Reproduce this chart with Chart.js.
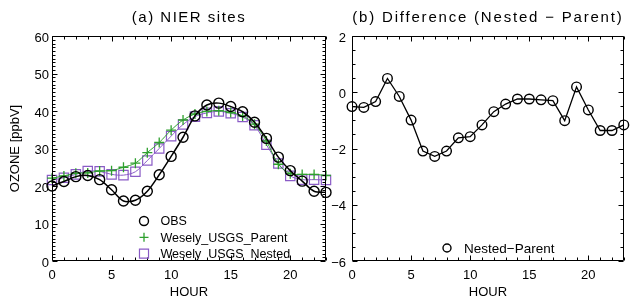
<!DOCTYPE html>
<html>
<head>
<meta charset="utf-8">
<script src="https://cdn.jsdelivr.net/npm/chart.js@4.4.1/dist/chart.umd.min.js"></script>
<style>
  html, body { margin: 0; padding: 0; background: #fff; }
  #wrap { position: relative; width: 630px; height: 299px; overflow: hidden; }
  canvas { position: absolute; top: 0; }
  #nier { left: 0; }
  #diff { left: 326px; }
</style>
</head>
<body>
<div id="wrap">
  <canvas id="nier" width="340" height="299"></canvas>
  <canvas id="diff" width="304" height="299"></canvas>
</div>
<script>
// hourly values
const hours = [0, 1, 2, 3, 4, 5, 6, 7, 8, 9, 10, 11, 12, 13, 14, 15, 16, 17, 18, 19, 20, 21, 22, 23];
const obs = [20.0, 21.2, 22.5, 22.8, 21.7, 19.0, 16.0, 16.2, 18.6, 23.0, 27.9, 33.0, 38.7, 41.6, 42.1, 41.2, 39.8, 37.0, 32.7, 27.7, 24.1, 21.3, 18.6, 18.3];
const parentRun = [22.1, 22.7, 23.4, 23.5, 24.0, 24.1, 25.0, 26.1, 28.9, 31.6, 34.9, 37.6, 39.2, 39.9, 40.1, 39.6, 38.7, 36.5, 32.0, 25.8, 23.3, 23.1, 23.1, 22.8];
const nestedRun = [21.6, 22.2, 23.1, 24.0, 23.9, 23.1, 22.9, 23.8, 26.8, 30.0, 33.3, 36.4, 38.5, 39.5, 39.9, 39.4, 38.4, 36.2, 31.0, 26.0, 22.7, 21.7, 21.7, 21.6];
const nestedMinusParent = [-0.51, -0.54, -0.33, 0.49, -0.15, -0.99, -2.09, -2.28, -2.09, -1.62, -1.58, -1.16, -0.69, -0.42, -0.24, -0.24, -0.27, -0.30, -1.01, 0.19, -0.63, -1.36, -1.36, -1.16];

const seriesLabels = ["OBS", "Wesely_USGS_Parent", "Wesely_USGS_Nested"];
const diffLabel = "Nested\u2212Parent";

const xy = (vals) => vals.map((v, i) => ({ x: hours[i], y: v }));

Chart.defaults.font.family = '"Liberation Sans", Arial, sans-serif';
Chart.defaults.font.size = 13;
Chart.defaults.color = "#000";

// box with inward major/minor ticks on all four sides + panel title
const idlFrame = {
  id: "idlFrame",
  afterDraw(chart, args, opts) {
    const { ctx, chartArea: a, scales: { x, y } } = chart;
    const L = Math.round(a.left) + 0.5, R = Math.round(a.right) - 0.5;
    const T = Math.round(a.top) + 0.5, B = Math.round(a.bottom) - 0.5;
    ctx.save();
    ctx.strokeStyle = "#000";
    ctx.lineWidth = 1;
    ctx.beginPath();
    ctx.rect(L, T, R - L, B - T);
    const isMajor = (v, step) => Math.abs(v / step - Math.round(v / step)) < 1e-6;
    for (let v = x.min; v <= x.max + 1e-9; v += opts.xMinor) {
      const px = Math.round(x.getPixelForValue(v)) + 0.5;
      const len = isMajor(v, opts.xMajor) ? 5 : 3;
      ctx.moveTo(px, B); ctx.lineTo(px, B - len);
      ctx.moveTo(px, T); ctx.lineTo(px, T + len);
    }
    for (let v = y.min; v <= y.max + 1e-9; v += opts.yMinor) {
      const py = Math.round(y.getPixelForValue(v)) + 0.5;
      const len = isMajor(v, opts.yMajor) ? 5 : 3;
      ctx.moveTo(L, py); ctx.lineTo(L + len, py);
      ctx.moveTo(R, py); ctx.lineTo(R - len, py);
    }
    ctx.stroke();

    ctx.fillStyle = "#000";
    ctx.font = '15px "Liberation Sans", Arial, sans-serif';
    ctx.letterSpacing = opts.titleSpacing || "1.5px";
    ctx.textAlign = "center";
    ctx.textBaseline = "middle";
    ctx.fillText(opts.title, (a.left + a.right) / 2, 18);
    ctx.restore();
  }
};

// legend drawn inside the plot area
const insideLegend = {
  id: "insideLegend",
  afterDraw(chart, args, opts) {
    const { ctx } = chart;
    ctx.save();
    ctx.font = opts.font;
    ctx.textBaseline = "middle";
    chart.data.datasets.forEach((ds, i) => {
      const yy = opts.y + i * opts.dy;
      ctx.strokeStyle = ds.borderColor;
      ctx.fillStyle = "rgba(0,0,0,0)";
      ctx.lineWidth = ds.pointBorderWidth;
      Chart.helpers.drawPoint(ctx, {
        pointStyle: ds.pointStyle,
        radius: opts.radius[i],
        borderWidth: ds.pointBorderWidth,
        rotation: 0
      }, opts.x, yy);
      ctx.fillStyle = "#000";
      ctx.fillText(ds.label, opts.textX, yy + 1);
    });
    ctx.restore();
  }
};

const common = (xFit, yFit, padRight) => ({
  responsive: false,
  animation: false,
  events: [],
  layout: { padding: { top: 36, right: padRight, bottom: 0, left: 0 } },
  plugins: { legend: { display: false }, tooltip: { enabled: false } },
  scales: {
    x: {
      type: "linear",
      min: 0,
      max: 23,
      grid: { display: false, drawTicks: false },
      border: { display: false },
      ticks: { stepSize: 5, includeBounds: false, autoSkip: false, padding: 7, maxRotation: 0 },
      title: { display: true, text: "HOUR", font: { size: 13, lineHeight: 1 }, padding: 0 },
      afterFit: (s) => { s.height = xFit; }
    }
  }
});

// (a) NIER sites
const optA = common(38, 52, 14);
optA.scales.y = {
  min: 0,
  max: 60,
  grid: { display: false, drawTicks: false },
  border: { display: false },
  ticks: { stepSize: 10, autoSkip: false, padding: 3, labelOffset: 2 },
  title: { display: true, text: "OZONE [ppbV]", font: { size: 13 }, padding: { top: 8, bottom: 0 } },
  afterFit: (s) => { s.width = 52; }
};
optA.plugins.idlFrame = { title: "(a) NIER sites", xMajor: 5, xMinor: 1, yMajor: 10, yMinor: 1, titleSpacing: "1.5px" };
optA.plugins.insideLegend = { x: 144, textX: 160.5, y: 221, dy: 16.3, radius: [4.5, 4.5, 6.4], font: '12.5px "Liberation Sans", Arial, sans-serif' };

new Chart(document.getElementById("nier"), {
  type: "line",
  data: {
    datasets: [
      {
        label: seriesLabels[0],
        data: xy(obs),
        borderColor: "#000",
        borderWidth: 1.5,
        pointStyle: "circle",
        pointRadius: 5,
        pointBorderWidth: 1.4,
        pointBackgroundColor: "rgba(0,0,0,0)",
        tension: 0.3,
        clip: false
      },
      {
        label: seriesLabels[1],
        data: xy(parentRun),
        borderColor: "#2ea02e",
        borderWidth: 1,
        pointStyle: "cross",
        pointRadius: 5,
        pointBorderWidth: 1.3,
        pointBackgroundColor: "rgba(0,0,0,0)",
        tension: 0.3,
        clip: false
      },
      {
        label: seriesLabels[2],
        data: xy(nestedRun),
        borderColor: "#8a5bc6",
        borderWidth: 1,
        pointStyle: "rect",
        pointRadius: 6.6,
        pointBorderWidth: 1.2,
        pointBackgroundColor: "rgba(0,0,0,0)",
        tension: 0.3,
        clip: false
      }
    ]
  },
  options: optA,
  plugins: [idlFrame, insideLegend]
});

// (b) Difference (Nested - Parent)
const optB = common(38, 26, 1);
optB.scales.y = {
  min: -6,
  max: 2,
  grid: { display: false, drawTicks: false },
  border: { display: false },
  ticks: {
    stepSize: 2,
    autoSkip: false,
    padding: 6,
    labelOffset: 2,
    callback: (v) => String(v).replace("-", "\u2212")
  },
  afterFit: (s) => { s.width = 26; }
};
optB.plugins.idlFrame = { title: "(b) Difference (Nested \u2212 Parent)", xMajor: 5, xMinor: 1, yMajor: 2, yMinor: 0.5, titleSpacing: "1.8px" };
optB.plugins.insideLegend = { x: 121, textX: 138, y: 248, dy: 16, radius: [4], font: '13.5px "Liberation Sans", Arial, sans-serif' };

new Chart(document.getElementById("diff"), {
  type: "line",
  data: {
    datasets: [
      {
        label: diffLabel,
        data: xy(nestedMinusParent),
        borderColor: "#000",
        borderWidth: 1.3,
        pointStyle: "circle",
        pointRadius: 4.8,
        pointBorderWidth: 1.4,
        pointBackgroundColor: "rgba(0,0,0,0)",
        tension: 0,
        clip: false
      }
    ]
  },
  options: optB,
  plugins: [idlFrame, insideLegend]
});
</script>
</body>
</html>
